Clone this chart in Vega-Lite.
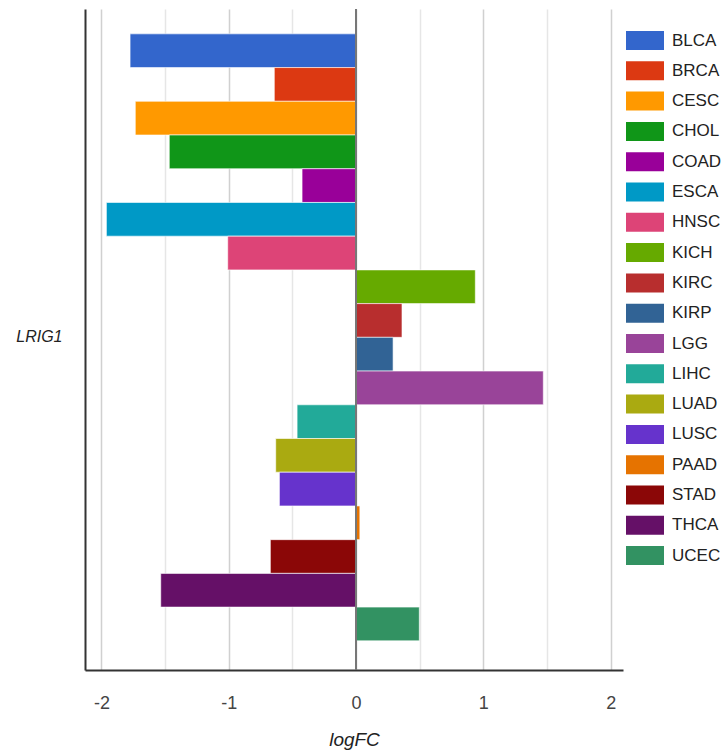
{
  "$schema": "https://vega.github.io/schema/vega-lite/v6.json",
  "autosize": "none",
  "width": 538,
  "height": 661,
  "padding": {"left": 85, "top": 9, "right": 103, "bottom": 83},
  "background": "white",
  "config": {
    "view": {"stroke": null},
    "font": "Liberation Sans"
  },
  "data": {
    "values": [
      {"gene": "LRIG1", "cancer": "BLCA", "logFC": -1.775},
      {"gene": "LRIG1", "cancer": "BRCA", "logFC": -0.642},
      {"gene": "LRIG1", "cancer": "CESC", "logFC": -1.734},
      {"gene": "LRIG1", "cancer": "CHOL", "logFC": -1.467},
      {"gene": "LRIG1", "cancer": "COAD", "logFC": -0.424},
      {"gene": "LRIG1", "cancer": "ESCA", "logFC": -1.961},
      {"gene": "LRIG1", "cancer": "HNSC", "logFC": -1.008},
      {"gene": "LRIG1", "cancer": "KICH", "logFC": 0.937},
      {"gene": "LRIG1", "cancer": "KIRC", "logFC": 0.361},
      {"gene": "LRIG1", "cancer": "KIRP", "logFC": 0.291},
      {"gene": "LRIG1", "cancer": "LGG", "logFC": 1.471},
      {"gene": "LRIG1", "cancer": "LIHC", "logFC": -0.463},
      {"gene": "LRIG1", "cancer": "LUAD", "logFC": -0.631},
      {"gene": "LRIG1", "cancer": "LUSC", "logFC": -0.602},
      {"gene": "LRIG1", "cancer": "PAAD", "logFC": 0.03},
      {"gene": "LRIG1", "cancer": "STAD", "logFC": -0.673},
      {"gene": "LRIG1", "cancer": "THCA", "logFC": -1.534},
      {"gene": "LRIG1", "cancer": "UCEC", "logFC": 0.497}
    ]
  },
  "layer": [
    {
      "mark": {"type": "bar", "stroke": "white", "strokeOpacity": 0.6, "strokeWidth": 1},
      "encoding": {
        "y": {
          "field": "gene",
          "type": "nominal",
          "scale": {"paddingInner": 0, "paddingOuter": 0.0445, "align": 0.46},
          "axis": {
            "title": null,
            "ticks": false,
            "domainColor": "#333",
            "domainWidth": 2,
            "labelFont": "Liberation Sans",
            "labelFontSize": 16,
            "labelFontStyle": "italic",
            "labelColor": "#222",
            "labelPadding": 23
          }
        },
        "yOffset": {
          "field": "cancer",
          "type": "nominal",
          "scale": {"paddingInner": 0, "paddingOuter": 0}
        },
        "x": {
          "field": "logFC",
          "type": "quantitative",
          "scale": {"domain": [-2.129, 2.097], "nice": false, "zero": false},
          "axis": {
            "values": [-2, -1.5, -1, -0.5, 0, 0.5, 1, 1.5, 2],
            "labelExpr": "datum.value % 1 === 0 ? (datum.value < 0 ? '-' + abs(datum.value) : '' + datum.value) : ''",
            "ticks": false,
            "domainColor": "#333",
            "domainWidth": 2,
            "gridColor": {"condition": {"test": "datum.value % 1 === 0", "value": "#d0d0d0"}, "value": "#e6e6e6"},
            "gridWidth": 1.5,
            "labelFont": "Liberation Sans",
            "labelFontSize": 18,
            "labelColor": "#444",
            "labelPadding": 24,
            "title": "logFC",
            "titleFont": "Liberation Sans",
            "titleFontSize": 19,
            "titleFontStyle": "italic",
            "titleFontWeight": "normal",
            "titleColor": "#222",
            "titlePadding": 18
          }
        },
        "color": {
          "field": "cancer",
          "type": "nominal",
          "scale": {
            "domain": ["BLCA","BRCA","CESC","CHOL","COAD","ESCA","HNSC","KICH","KIRC","KIRP","LGG","LIHC","LUAD","LUSC","PAAD","STAD","THCA","UCEC"],
            "range": ["#3366cc","#dc3912","#ff9900","#109618","#990099","#0099c6","#dd4477","#66aa00","#b82e2e","#316395","#994499","#22aa99","#aaaa11","#6633cc","#e67300","#8b0707","#651067","#329262"]
          },
          "legend": {
            "title": null,
            "orient": "none",
            "legendX": 541,
            "legendY": 12.5,
            "symbolType": "M-1,-0.5H1V0.5H-1Z",
            "symbolSize": 1444,
            "symbolStrokeWidth": 0,
            "symbolOpacity": 1,
            "labelFont": "Liberation Sans",
            "labelFontSize": 17,
            "labelColor": "#222",
            "labelOffset": 8,
            "rowPadding": 1.3,
            "padding": 0
          }
        }
      }
    },
    {
      "mark": {"type": "rule", "color": "#777", "strokeWidth": 1.5},
      "encoding": {"x": {"datum": 0}}
    }
  ]
}
